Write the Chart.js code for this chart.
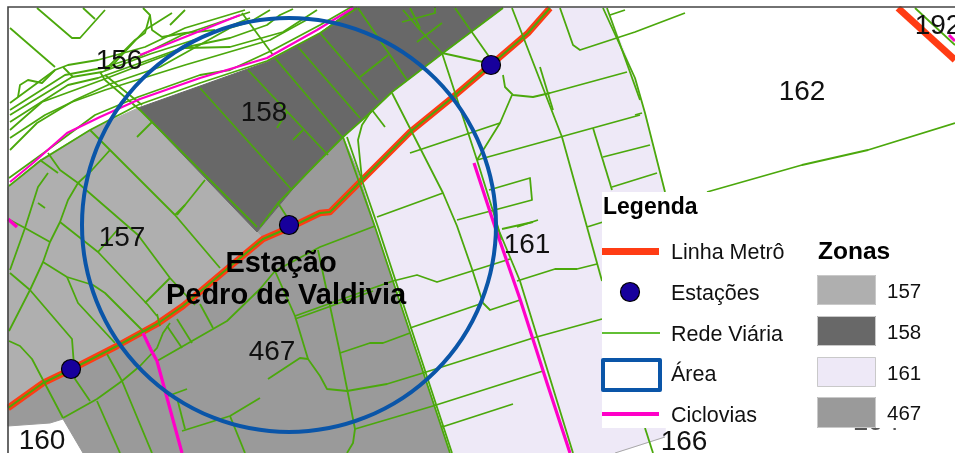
<!DOCTYPE html>
<html><head><meta charset="utf-8">
<style>html,body{margin:0;padding:0;background:#fff}canvas{display:block}</style>
<script src="https://cdn.jsdelivr.net/npm/chart.js@4"></script></head>
<body><canvas id="c" width="955" height="453"></canvas>
<script>
const zone157=[[8,187],[40,160],[90,130],[138,108],[257,232],[263,239],[227,269],[183,306],[157,324],[117,346],[72,369],[43,383],[8,408]];
const zone158=[[138,108],[200,86],[267,62],[320,33],[353,8],[503,8],[443,53],[392,92],[370,113],[343,137],[320,160],[292,190],[257,232]];
const zone161=[[503,8],[607,8],[635,78],[645,113],[665,192],[668,300],[665,437],[615,453],[450,453],[375,227],[357,170],[343,137],[370,113],[392,92],[443,53]];
const zone467=[[343,137],[357,170],[375,227],[450,453],[83,453],[63,419],[50,423],[8,426],[8,408],[43,383],[72,369],[117,346],[157,324],[183,306],[227,269],[263,239],[257,232],[292,190],[320,160]];
const roads=[
[[37,8],[72,38],[80,38],[105,10]],[[83,8],[95,19]],[[10,28],[55,67]],
[[10,103],[55,70],[68,65],[98,60],[145,47],[185,28],[245,10]],
[[10,110],[65,75],[102,68],[140,56],[182,35],[250,12]],
[[10,115],[72,77],[102,72],[150,54],[200,38],[250,18]],
[[10,122],[68,85],[98,78],[182,48],[230,38],[267,25],[280,15],[293,9]],
[[10,130],[42,102],[102,80],[185,48],[230,47],[283,32],[317,10]],
[[10,138],[45,115],[72,102],[105,90],[185,65],[270,40],[310,18]],
[[10,150],[37,123],[75,100],[110,84],[160,67],[230,28],[250,22],[270,10]],
[[9,178],[45,152],[95,115],[138,97],[200,75],[230,70],[273,50],[320,25],[353,6]],
[[9,186],[40,161],[90,130],[138,105],[200,83],[267,61],[320,33],[357,8]],
[[18,97],[20,85],[28,80],[42,83],[55,70]],[[63,67],[73,77]],[[100,72],[105,80],[140,110]],[[105,75],[142,105]],
[[110,68],[145,30],[172,13]],[[105,70],[135,40],[145,33],[150,15],[143,8]],[[150,15],[152,30],[162,37],[185,33],[215,30]],[[170,25],[185,10]],
[[242,13],[273,55]],[[275,58],[343,138]],[[298,47],[360,118]],[[320,33],[378,100]],[[358,8],[407,80]],[[200,88],[292,190]],[[248,70],[328,155]],
[[360,77],[388,55]],[[455,8],[490,58]],[[403,10],[420,30],[442,53]],[[410,8],[420,28]],[[435,8],[435,13],[402,22]],[[417,42],[442,23]],
[[137,137],[152,122]],[[287,112],[277,128]],[[303,130],[293,140]],[[205,180],[177,215]],[[175,215],[185,205]],
[[503,8],[443,53],[392,92],[370,113],[343,137],[320,160],[278,203],[260,227]],[[278,203],[287,217]],[[138,108],[257,227]],
[[90,130],[130,170],[175,215],[220,268]],[[40,160],[58,173]],[[48,153],[60,170],[78,183],[138,235],[170,278],[195,305]],[[170,278],[145,303]],
[[60,222],[98,252],[148,305],[157,316]],[[98,252],[120,227]],
[[110,150],[92,170],[78,183],[68,200],[60,222],[50,242],[43,262],[30,290],[9,331]],
[[48,173],[38,187],[25,228],[10,270]],[[38,203],[45,208]],[[10,220],[25,228],[50,242]],
[[10,273],[30,290],[72,339],[75,379],[90,401]],
[[43,262],[67,277],[93,285],[105,293],[143,331]],[[67,277],[78,303],[115,343]],[[9,341],[20,346],[32,359],[63,418]],
[[63,418],[97,399],[122,381],[140,366],[157,348],[163,333],[170,323]],[[107,354],[122,381],[152,453]],[[97,401],[120,453]],
[[157,361],[227,321],[260,289],[275,271],[320,247],[375,226]],[[167,326],[182,348]],[[177,319],[192,343]],[[200,304],[213,328]],[[157,314],[160,326]],
[[143,333],[157,361],[182,453]],[[168,396],[187,389]],[[177,398],[185,429]],[[182,431],[230,416],[260,398]],[[230,416],[245,453]],
[[268,379],[300,358],[308,359],[320,376],[327,389],[347,391],[387,384],[423,373],[533,338],[602,319]],
[[275,271],[295,316],[308,359]],[[318,250],[330,306],[340,353],[355,429],[353,443],[347,453]],
[[295,316],[373,288],[393,281],[417,275],[437,282],[510,259]],[[295,319],[373,291]],
[[340,353],[370,343],[383,343],[410,333]],[[410,328],[480,304]],[[483,303],[490,310],[520,300]],
[[355,429],[433,406],[543,371]],[[442,427],[513,404]],[[392,93],[443,193],[457,226],[472,269],[483,303]],
[[517,281],[555,269],[577,269],[597,264]],[[587,227],[602,281]],[[502,229],[533,222]],
[[343,137],[375,227],[450,453]],[[347,137],[378,227],[452,453]],[[497,226],[520,281],[573,453]],[[442,53],[477,160],[498,227],[501,240]],
[[372,110],[362,125],[358,140],[362,180]],[[372,110],[385,127]],[[442,53],[483,62]],
[[503,75],[505,87],[513,95],[533,97],[550,93],[627,72]],[[512,95],[500,123],[477,160]],[[410,153],[500,123]],[[477,160],[640,115]],
[[512,8],[562,137],[587,227]],[[540,67],[553,110]],[[560,8],[573,45],[580,50],[635,32],[685,13]],
[[603,8],[635,78],[645,113],[665,192]],[[607,8],[640,100]],[[610,15],[625,10]],[[593,128],[612,190]],[[603,157],[650,145]],[[612,187],[657,173]],[[635,115],[642,113]],
[[489,190],[530,178],[532,200],[457,220]],[[377,217],[443,193]],[[517,227],[538,220]],[[587,227],[603,222]],
[[707,192],[802,165],[868,150],[955,123]],[[915,8],[955,45]],[[645,428],[653,453]]
];
const metroLine=[[8,408],[43,383],[72,369],[117,346],[157,324],[183,306],[227,269],[263,239],[293,226],[320,213],[330,212],[360,182],[410,132],[453,97],[493,63],[528,33],[550,8]];
const metroLine2=[[898,8],[955,60]];
const cicloA=[[10,182],[33,163],[67,133],[100,117],[140,99],[200,78],[267,58],[317,30],[353,8]];
const cicloB=[[140,55],[240,15]];
const cicloC=[[474,163],[495,227],[520,299],[547,383],[570,453]];
const cicloD=[[143,333],[151,350],[157,361],[182,453]];
const cicloE=[[8,219],[17,227]];
const cicloF=[[949,35],[955,41]];
const zone166Edge=[[615,453],[665,437]];
const stations=[[71,369],[289,225],[491,65]];
const areaCentre=[[289,225]];
const mapLabels=["156","158","157","162","192","161","467","160"];
const mapLabelX=[119,264,122,802,938,527,272,42];
const mapLabelY=[59,111,236,90,24,243,350,439];
const stationTitle=["Estação","Pedro de Valdivia"];
const legendTitle="Legenda";
const legendItems=["Linha Metrô","Estações","Rede Viária","Área","Ciclovias"];
const zonesTitle="Zonas";
const zoneNames=["157","158","161","467"];
const zoneColors=["#afafaf","#686868","#eee9f7","#9a9a9a"];

const GREEN="#4ba80c",ORANGE="#ff3c14",PINK="#ff00c8",BLUE="#0a55a8",NAVY="#17009c";
const toPts=a=>a.map(p=>({x:p[0],y:p[1]}));
const line=(a,color,w,extra)=>Object.assign({data:toPts(a),showLine:true,borderColor:color,borderWidth:w,pointRadius:0,fill:false,borderJoinStyle:"round",borderCapStyle:"butt"},extra||{});
const zone=(a,c)=>line(a.concat([a[0]]),c,1,{fill:"shape",backgroundColor:c});
const seq=[
 zone(zone161,zoneColors[2]),zone(zone467,zoneColors[3]),zone(zone157,zoneColors[0]),zone(zone158,zoneColors[1]),
 line(zone166Edge,"#a8a8a8",1),
 line(metroLine,ORANGE,6.5),line(metroLine2,ORANGE,7),
 ...roads.map(r=>line(r,GREEN,1.8)),
 line(metroLine,GREEN,2),
 line(cicloA,PINK,2.2),line(cicloB,PINK,2),line(cicloC,PINK,3.2),line(cicloD,PINK,3.2),line(cicloE,PINK,3.5),line(cicloF,PINK,3),
 {data:toPts(areaCentre),showLine:false,pointRadius:207,pointHoverRadius:207,pointBorderWidth:4,pointBorderColor:BLUE,pointBackgroundColor:"rgba(0,0,0,0)"},
 {data:toPts(stations),showLine:false,pointRadius:9.5,pointBorderWidth:1.2,pointBorderColor:"#000",pointBackgroundColor:NAVY}
];
seq.forEach((d,i)=>d.order=seq.length-i);

const overlay={id:"overlay",afterDatasetsDraw(ch){
 const c=ch.ctx,X=ch.scales.x,Y=ch.scales.y;
 c.save();
 c.fillStyle="#fff";c.fillRect(0,0,955,6.2);c.fillRect(0,0,7.2,453);
 c.strokeStyle="#444";c.lineWidth=1.6;c.beginPath();c.moveTo(8,453);c.lineTo(8,7);c.lineTo(955,7);c.stroke();
 c.textBaseline="middle";c.textAlign="center";c.fillStyle="#111";
 c.font='28px "Liberation Sans"';
 mapLabels.forEach((t,i)=>c.fillText(t,X.getPixelForValue(mapLabelX[i]),Y.getPixelForValue(mapLabelY[i])+2));
 c.textBaseline="alphabetic";c.fillStyle="#555";c.fillText("194",876,430);c.textBaseline="middle";
 c.fillStyle="#000";c.font='bold 29px "Liberation Sans"';
 c.fillText(stationTitle[0],281,264);c.fillText(stationTitle[1],286,296);
 // legend panel
 c.fillStyle="#fff";c.fillRect(602,192,353,236);
 c.fillStyle="#111";c.textAlign="center";c.font='28px "Liberation Sans"';
 c.fillText("166",684,442);
 c.textAlign="left";c.fillStyle="#000";c.font='bold 23px "Liberation Sans"';
 c.fillText(legendTitle,603,208);
 c.font='bold 24.5px "Liberation Sans"';c.fillText(zonesTitle,818,252);
 c.fillStyle="#111";c.font='21.5px "Liberation Sans"';
 const ly=[253,294,335,375,416];
 legendItems.forEach((t,i)=>c.fillText(t,671,ly[i]));
 c.fillStyle=ORANGE;c.fillRect(602,248,57,7);
 c.beginPath();c.arc(630,292,9.5,0,7);c.fillStyle=NAVY;c.fill();c.lineWidth=1.2;c.strokeStyle="#000";c.stroke();
 c.strokeStyle="#62bf35";c.lineWidth=2;c.beginPath();c.moveTo(602,333);c.lineTo(660,333);c.stroke();
 c.strokeStyle=BLUE;c.lineWidth=4;c.lineJoin="round";c.strokeRect(603,360,57,30);
 c.strokeStyle=PINK;c.lineWidth=4;c.beginPath();c.moveTo(602,414);c.lineTo(659,414);c.stroke();
 const sy=[275,316,357,397],sh=[30,30,30,31];
 zoneNames.forEach((n,i)=>{
  c.fillStyle=zoneColors[i];c.fillRect(817,sy[i],59,sh[i]);
  c.strokeStyle="#c9c9c9";c.lineWidth=1;c.strokeRect(817.5,sy[i]+.5,58,sh[i]-1);
  c.fillStyle="#111";c.font='20.5px "Liberation Sans"';c.fillText(n,887,sy[i]+17);
 });
 c.restore();
}};
new Chart(document.getElementById("c"),{type:"scatter",data:{datasets:seq},plugins:[overlay],options:{
 responsive:false,animation:false,events:[],layout:{padding:0,autoPadding:false},
 scales:{x:{type:"linear",min:0,max:955,display:false},y:{type:"linear",min:0,max:453,reverse:true,display:false}},
 plugins:{legend:{display:false},tooltip:{enabled:false},title:{display:false}}
}});
</script></body></html>
